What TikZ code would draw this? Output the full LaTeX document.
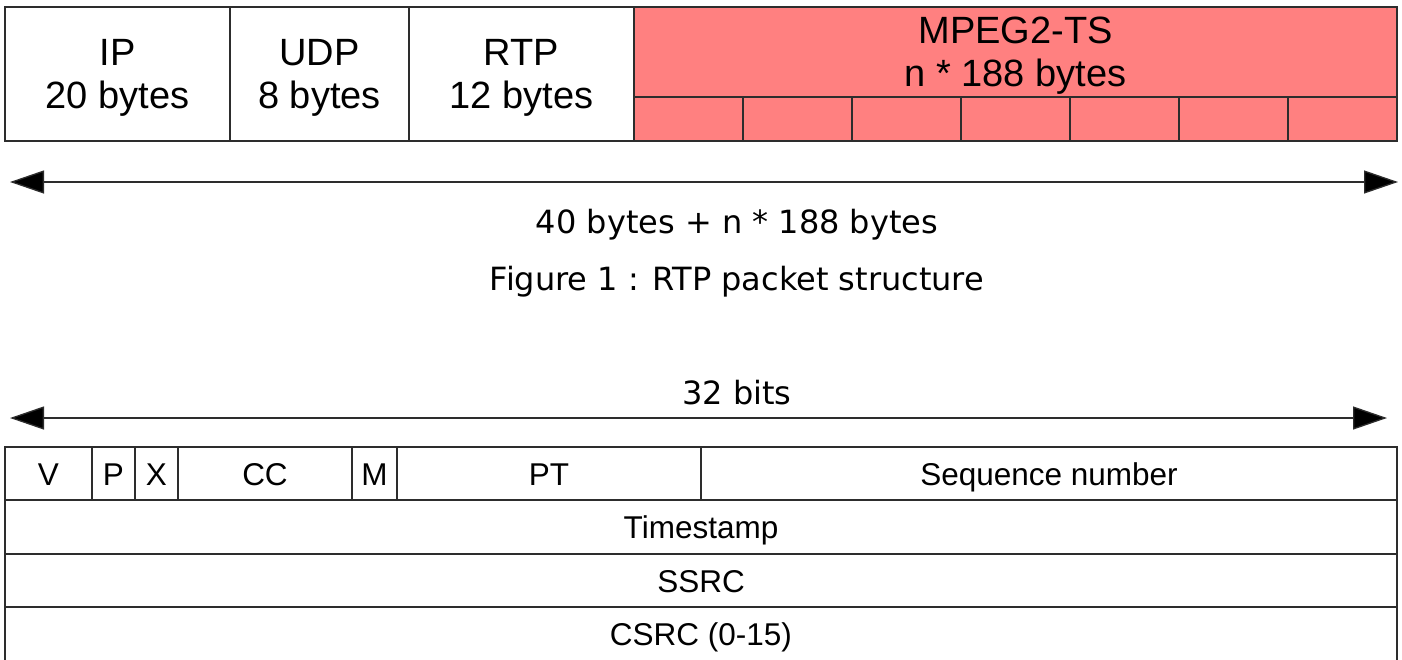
\documentclass[tikz,border=0pt]{standalone}
\usepackage{fontspec}
\setmainfont{Liberation Sans}
\newfontfamily\capfont{DejaVu Sans}
\usetikzlibrary{arrows.meta}
\definecolor{tspink}{RGB}{255,128,128}
\definecolor{linegray}{RGB}{45,45,45}
\begin{document}
\begin{tikzpicture}[x=1pt,y=-1pt,
  cell/.style={draw=linegray, line width=1.3pt, fill=white, inner sep=0pt, outer sep=0pt, align=center},
  pinkcell/.style={cell, fill=tspink},
  bigtext/.style={font=\fontsize{38}{43}\selectfont, text depth=0pt},
  smalltext/.style={font=\fontsize{31.5}{36}\selectfont},
  captext/.style={font=\capfont\fontsize{32}{38}\selectfont, inner sep=0pt, yshift=-3pt},
  dimarrow/.style={draw=linegray, line width=1.3pt,
    {Triangle[length=34pt,width=23pt,fill=black]}-{Triangle[length=34pt,width=23pt,fill=black]}}]
\useasboundingbox[fill=white] (0,0) rectangle (1402,659);

% top packet structure
\node[cell, bigtext, minimum width=225, minimum height=134] (ip) at (117.5,74) {IP\\20 bytes};
\node[cell, bigtext, minimum width=179, minimum height=134] (udp) at (319.5,74) {UDP\\8 bytes};
\node[cell, bigtext, minimum width=225, minimum height=134] (rtp) at (521.5,74) {RTP\\12 bytes};
\node[pinkcell, bigtext, minimum width=763, minimum height=90] (ts) at (1015.5,52) {MPEG2-TS\\n * 188 bytes};
\foreach \i in {0,...,6}{
  \node[pinkcell, minimum width=109, minimum height=44] (tsp\i) at (688.5+109*\i,119) {};
}

% dimension arrow 1
\coordinate (a1l) at (10,182);
\coordinate (a1r) at (1398,182);
\draw[dimarrow] (a1l) -- (a1r);
\node[captext] (total) at (737,222) {40 bytes + n * 188 bytes};
\node[captext] (fig) at (737,279) {Figure 1 : RTP packet structure};

% dimension arrow 2
\node[captext, yshift=2pt] (bits) at (737,392) {32 bits};
\coordinate (a2l) at (10,418);
\coordinate (a2r) at (1387,418);
\draw[dimarrow] (a2l) -- (a2r);

% RTP header
\tikzset{rowtext/.style={smalltext, text height=23pt, text depth=0pt}}
\node[cell, rowtext, minimum width=87, minimum height=53] (v) at (48.5,473.5) {V};
\node[cell, rowtext, minimum width=43, minimum height=53] (p) at (113.5,473.5) {P};
\node[cell, rowtext, minimum width=43, minimum height=53] (x) at (156.5,473.5) {X};
\node[cell, rowtext, minimum width=174, minimum height=53] (cc) at (265,473.5) {CC};
\node[cell, rowtext, minimum width=45, minimum height=53] (m) at (374.5,473.5) {M};
\node[cell, rowtext, minimum width=304, minimum height=53] (pt) at (549,473.5) {PT};
\node[cell, rowtext, minimum width=696, minimum height=53] (seq) at (1049,473.5) {Sequence number};
\node[cell, rowtext, minimum width=1392, minimum height=54] (ts2) at (701,527) {Timestamp};
\node[cell, rowtext, minimum width=1392, minimum height=53] (ssrc) at (701,580.5) {SSRC};
\node[cell, rowtext, minimum width=1392, minimum height=54] (csrc) at (701,634) {CSRC (0-15)};
\end{tikzpicture}
\end{document}
